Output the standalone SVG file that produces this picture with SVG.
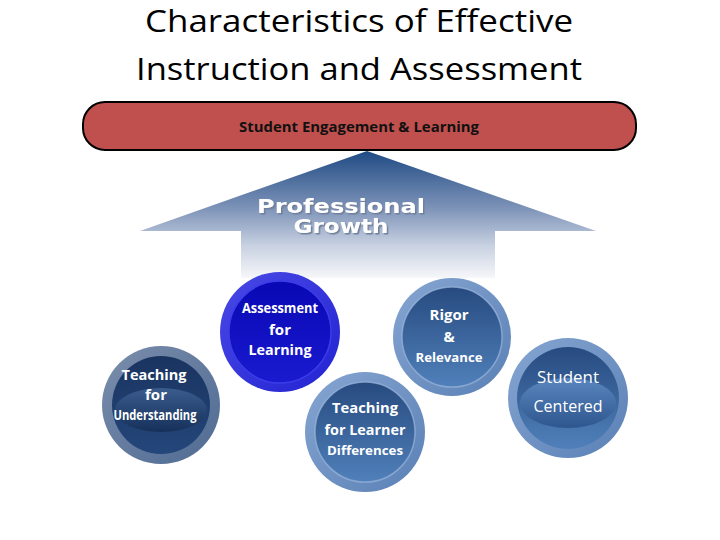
<svg xmlns="http://www.w3.org/2000/svg" width="720" height="540" viewBox="0 0 720 540">
<defs>
<linearGradient id="arrowGrad" x1="0" y1="151" x2="0" y2="278" gradientUnits="userSpaceOnUse">
<stop offset="0" stop-color="#1F4A84"/>
<stop offset="0.45" stop-color="#7D93B8"/>
<stop offset="0.75" stop-color="#C9D2E2"/>
<stop offset="1" stop-color="#F6F7FA"/>
</linearGradient>
<linearGradient id="ringBlue" x1="0" y1="0" x2="1" y2="1">
<stop offset="0" stop-color="#86A6D2"/>
<stop offset="1" stop-color="#5A80B5"/>
</linearGradient>
<linearGradient id="diskBlue" x1="0" y1="0" x2="0" y2="1">
<stop offset="0" stop-color="#274B80"/>
<stop offset="1" stop-color="#5080BA"/>
</linearGradient>
<linearGradient id="ringNavy" x1="0" y1="0" x2="1" y2="1">
<stop offset="0" stop-color="#7B8EAC"/>
<stop offset="1" stop-color="#4F6A92"/>
</linearGradient>
<linearGradient id="diskNavy" x1="0" y1="0" x2="0" y2="1">
<stop offset="0" stop-color="#1A3460"/>
<stop offset="1" stop-color="#24467A"/>
</linearGradient>
<linearGradient id="lensNavy" x1="0" y1="0" x2="0" y2="1">
<stop offset="0" stop-color="#3A5C8E"/>
<stop offset="1" stop-color="#16305A"/>
</linearGradient>
<linearGradient id="ringViolet" x1="0" y1="0" x2="1" y2="1">
<stop offset="0" stop-color="#4A4AE6"/>
<stop offset="1" stop-color="#2222D2"/>
</linearGradient>
<linearGradient id="diskViolet" x1="0" y1="0" x2="0" y2="1">
<stop offset="0" stop-color="#0808B4"/>
<stop offset="1" stop-color="#1A1AD0"/>
</linearGradient>
<linearGradient id="lensBlue" x1="0" y1="0" x2="0" y2="1">
<stop offset="0" stop-color="#5A86BF"/>
<stop offset="1" stop-color="#2E568E"/>
</linearGradient>
<filter id="pgShadow" x="-10%" y="-30%" width="120%" height="160%">
<feDropShadow dx="1.5" dy="1.5" stdDeviation="0.4" flood-color="#6F7F9A" flood-opacity="1"/>
</filter>
<style>
.title{font-family:"Open Sans","Liberation Sans",sans-serif;font-size:31px;fill:#000;text-anchor:middle}
.lbl{font-family:"Open Sans","Liberation Sans",sans-serif;font-weight:bold;fill:#fff;text-anchor:middle}
.banner{fill:#C0504D;stroke:#000;stroke-width:2}
.pg{font-family:"DejaVu Sans","Liberation Sans",sans-serif;font-weight:900;font-size:19px;text-anchor:middle;fill:#fff}
.inner{fill:none;stroke:#9AB5DA;stroke-width:1.5;opacity:0.7}
</style>
</defs>

<g id="title">
<text class="title" x="359" y="32" textLength="428" lengthAdjust="spacingAndGlyphs">Characteristics of Effective</text>
<text class="title" x="359" y="80" textLength="446" lengthAdjust="spacingAndGlyphs">Instruction and Assessment</text>
</g>

<g id="arrow">
<path d="M367,151 L596,231 L495,231 L495,278 L241,278 L241,231 L140,231 Z" fill="url(#arrowGrad)"/>
<text class="pg" x="341" y="213" filter="url(#pgShadow)" textLength="168" lengthAdjust="spacingAndGlyphs">Professional</text>
<text class="pg" x="341" y="233" filter="url(#pgShadow)" textLength="95" lengthAdjust="spacingAndGlyphs">Growth</text>
</g>

<g id="banner">
<rect class="banner" x="83" y="102" width="553" height="48" rx="22" ry="22"/>
<text x="359" y="132" font-family="Open Sans, Liberation Sans, sans-serif" font-weight="bold" font-size="14" text-anchor="middle" fill="#111" textLength="240" lengthAdjust="spacingAndGlyphs">Student Engagement &amp; Learning</text>
</g>

<g id="node-understanding">
<circle cx="161" cy="405" r="59" fill="url(#ringNavy)"/>
<circle cx="161" cy="405" r="49" fill="url(#diskNavy)"/>
<ellipse cx="161" cy="410" rx="46" ry="22" fill="url(#lensNavy)"/>
<text class="lbl" x="154" y="380" font-size="15" textLength="65" lengthAdjust="spacingAndGlyphs">Teaching</text>
<text class="lbl" x="156" y="400" font-size="15">for</text>
<text class="lbl" x="155" y="420" font-size="13.5" textLength="83" lengthAdjust="spacingAndGlyphs">Understanding</text>
</g>

<g id="node-assessment">
<circle cx="280" cy="332" r="60" fill="url(#ringViolet)"/>
<circle cx="280" cy="332" r="51" fill="url(#diskViolet)"/>
<circle cx="280" cy="332" r="51" fill="none" stroke="#3C3CE8" stroke-width="1.5"/>
<text class="lbl" x="280" y="313" font-size="13.5" textLength="76" lengthAdjust="spacingAndGlyphs">Assessment</text>
<text class="lbl" x="280" y="335" font-size="15">for</text>
<text class="lbl" x="280" y="355" font-size="15" textLength="63" lengthAdjust="spacingAndGlyphs">Learning</text>
</g>

<g id="node-rigor">
<circle cx="452" cy="337" r="59" fill="url(#ringBlue)"/>
<circle cx="452" cy="337" r="50" fill="url(#diskBlue)"/>
<circle class="inner" cx="452" cy="337" r="50"/>
<text class="lbl" x="449" y="320" font-size="15" textLength="39" lengthAdjust="spacingAndGlyphs">Rigor</text>
<text class="lbl" x="449" y="342" font-size="15">&amp;</text>
<text class="lbl" x="449" y="362" font-size="13" textLength="67" lengthAdjust="spacingAndGlyphs">Relevance</text>
</g>

<g id="node-differences">
<circle cx="365" cy="432" r="60" fill="url(#ringBlue)"/>
<circle cx="365" cy="432" r="50" fill="url(#diskBlue)"/>
<circle class="inner" cx="365" cy="432" r="50"/>
<text class="lbl" x="365" y="413" font-size="15" textLength="66" lengthAdjust="spacingAndGlyphs">Teaching</text>
<text class="lbl" x="365" y="435" font-size="15" textLength="81" lengthAdjust="spacingAndGlyphs">for Learner</text>
<text class="lbl" x="365" y="455" font-size="13" textLength="76" lengthAdjust="spacingAndGlyphs">Differences</text>
</g>

<g id="node-student">
<circle cx="568" cy="398" r="60" fill="url(#ringBlue)"/>
<circle cx="568" cy="398" r="51" fill="url(#diskBlue)"/>
<ellipse cx="568" cy="403" rx="48" ry="25" fill="url(#lensBlue)"/>
<text x="568" y="383" font-family="Open Sans, Liberation Sans, sans-serif" font-size="15.5" fill="#fff" text-anchor="middle" textLength="62" lengthAdjust="spacingAndGlyphs">Student</text>
<text x="568" y="412" font-family="Open Sans, Liberation Sans, sans-serif" font-size="15.5" fill="#fff" text-anchor="middle" textLength="69" lengthAdjust="spacingAndGlyphs">Centered</text>
</g>

<g id="connectors"></g>
</svg>
